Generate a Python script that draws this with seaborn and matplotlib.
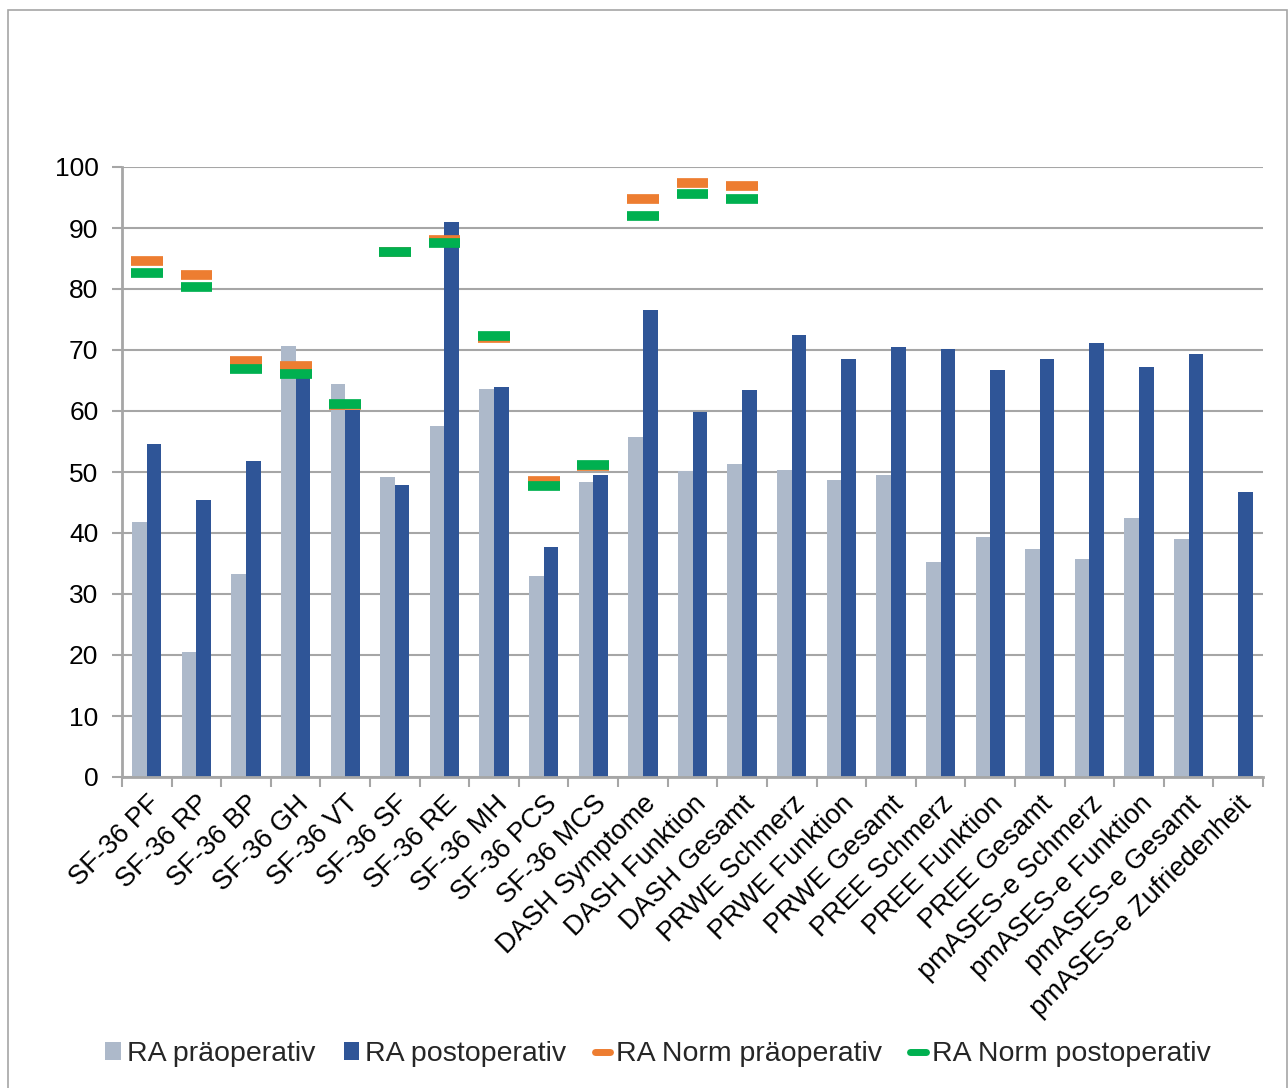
import numpy as np
import pandas as pd
import matplotlib
matplotlib.use("Agg")
import matplotlib.pyplot as plt
from matplotlib.lines import Line2D
from matplotlib.patches import Rectangle, Patch
import seaborn as sns

categories = [
    "SF-36 PF", "SF-36 RP", "SF-36 BP", "SF-36 GH", "SF-36 VT", "SF-36 SF",
    "SF-36 RE", "SF-36 MH", "SF-36 PCS", "SF-36 MCS", "DASH Symptome",
    "DASH Funktion", "DASH Gesamt", "PRWE Schmerz", "PRWE Funktion",
    "PRWE Gesamt", "PREE Schmerz", "PREE Funktion", "PREE Gesamt",
    "pmASES-e Schmerz", "pmASES-e Funktion", "pmASES-e Gesamt",
    "pmASES-e Zufriedenheit",
]

ra_pre = [41.8, 20.5, 33.3, 70.7, 64.4, 49.2, 57.5, 63.6, 33.0, 48.4, 55.7,
          50.2, 51.3, 50.3, 48.7, 49.5, 35.2, 39.3, 37.4, 35.7, 42.5, 39.0,
          np.nan]
ra_post = [54.6, 45.4, 51.8, 65.5, 60.2, 47.8, 91.0, 64.0, 37.7, 49.5, 76.6,
           59.8, 63.4, 72.5, 68.5, 70.5, 70.2, 66.7, 68.5, 71.1, 67.2, 69.3,
           46.7]
norm_pre = [84.6, 82.3, 68.2, 67.3, 61.0, 86.0, 88.1, 72.0, 48.5, 51.0, 94.7,
            97.4, 96.9] + [np.nan] * 10
norm_post = [82.7, 80.3, 66.9, 66.0, 61.2, 86.1, 87.5, 72.3, 47.7, 51.1, 92.0,
             95.6, 94.8] + [np.nan] * 10

series_names = ["RA präoperativ", "RA postoperativ",
                "RA Norm präoperativ", "RA Norm postoperativ"]
yticks = list(range(0, 101, 10))

c_pre = "#ADB9CA"
c_post = "#2F5597"
c_npre = "#ED7D31"
c_npost = "#00B050"
grid_c = "#A6A6A6"

df = pd.DataFrame({
    "Kategorie": categories * 2,
    "Serie": [series_names[0]] * len(categories) + [series_names[1]] * len(categories),
    "Wert": ra_pre + ra_post,
})

sns.set_theme(style="white")
plt.rcParams["font.family"] = ["Liberation Sans", "DejaVu Sans"]

W, H = 1288, 1088
fig = plt.figure(figsize=(W / 100, H / 100), dpi=100)
fig.patch.set_facecolor("white")
ax = fig.add_axes([122 / W, 1 - 777 / H, (1263 - 122) / W, (777 - 167) / H])

sns.barplot(data=df, x="Kategorie", y="Wert", hue="Serie",
            order=categories, hue_order=series_names[:2],
            palette=[c_pre, c_post], width=0.59, gap=0,
            errorbar=None, saturation=1, ax=ax, legend=False,
            linewidth=0, edgecolor="none", zorder=3)

# Normwerte als kurze waagerechte Balken
half = 0.32
x = np.arange(len(categories))
for vals, col in [(norm_pre, c_npre), (norm_post, c_npost)]:
    v = np.array(vals, dtype=float)
    m = ~np.isnan(v)
    ax.hlines(v[m], x[m] - half, x[m] + half, colors=col, linewidth=7.0,
              zorder=4)

ax.set_xlim(-0.5, len(categories) - 0.5)
ax.set_ylim(0, 100)
ax.set_yticks(yticks)
ax.set_yticklabels([str(t) for t in yticks], fontsize=19, color="black")
ax.set_xlabel("")
ax.set_ylabel("")
ax.yaxis.grid(True, color=grid_c, linewidth=1.5, zorder=0)
ax.set_axisbelow(True)

for side in ["top", "right"]:
    ax.spines[side].set_visible(False)
for side in ["left", "bottom"]:
    ax.spines[side].set_color(grid_c)
    ax.spines[side].set_linewidth(2.0)
    ax.spines[side].set_zorder(5)

ax.tick_params(axis="y", which="major", direction="out", length=7, width=1.5,
               color=grid_c, pad=10, left=True)
ax.set_xticks(x)
ax.set_xticklabels(categories, rotation=45, ha="right",
                   rotation_mode="anchor", fontsize=19.5, color="black")
ax.tick_params(axis="x", which="major", length=0, pad=10)
ax.set_xticks(np.arange(-0.5, len(categories), 1.0), minor=True)
ax.tick_params(axis="x", which="minor", direction="out", length=7, width=1.5,
               color=grid_c, bottom=True)

handles = [
    Patch(facecolor=c_pre, edgecolor="none"),
    Patch(facecolor=c_post, edgecolor="none"),
    Line2D([], [], color=c_npre, linewidth=5),
    Line2D([], [], color=c_npost, linewidth=5),
]
fig.legend(handles, series_names, loc="center", ncol=4,
           bbox_to_anchor=(658 / W, 1 - 1054 / H), frameon=False,
           fontsize=20.5, handlelength=0.55, handleheight=0.55,
           handletextpad=0.2, columnspacing=1.0)

fig.add_artist(Rectangle((8 / W, -0.01), (1287 - 8) / W, (1088 - 10) / H + 0.01,
                         transform=fig.transFigure, fill=False,
                         edgecolor="#A6A6A6", linewidth=1.2))

fig.savefig("out.png", dpi=100, facecolor="white")
